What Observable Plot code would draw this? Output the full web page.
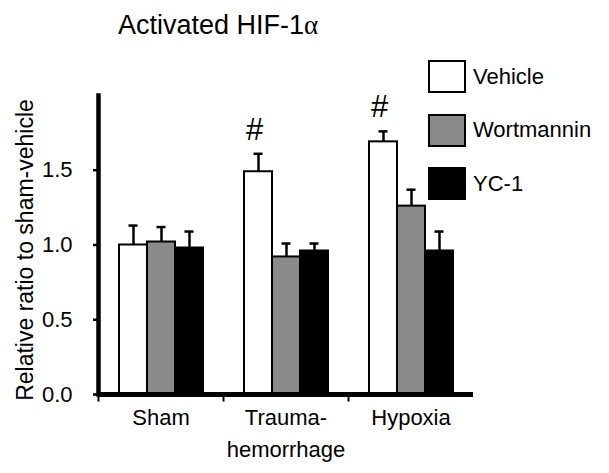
<!DOCTYPE html>
<html><head><meta charset="utf-8">
<script src="https://cdn.jsdelivr.net/npm/d3@7"></script>
<script src="https://cdn.jsdelivr.net/npm/@observablehq/plot@0.6"></script>
<style>
body{margin:0;background:#fff;}
#wrap{position:relative;width:609px;height:473px;font-family:"Liberation Sans",Arial,sans-serif;overflow:hidden;}
#chart{position:absolute;left:0;top:0;}
#title{position:absolute;left:118px;top:12px;font-size:27px;line-height:27px;white-space:nowrap;color:#000;}
#title .greek{font-family:"Liberation Serif","Times New Roman",serif;}
#legend{position:absolute;left:429px;top:61px;}
#legend .lg-swatches{font-family:"Liberation Sans",Arial,sans-serif;font-size:22px;margin:0;color:#000;}
#legend .lg-swatch{margin-bottom:22.5px;padding-bottom:0;}
#legend .lg-swatch > svg{margin-right:8px;overflow:visible;}
#legend .lg-swatch rect{stroke:#000;stroke-width:2px;}
</style></head>
<body><div id="wrap"><div id="chart"></div><div id="title">Activated HIF-1<span class="greek">α</span></div><div id="legend"></div></div>
<script>
// ---- data ----
const groups = ["Sham", "Trauma-hemorrhage", "Hypoxia"];
const groupLabels = ["Sham", "Trauma-\nhemorrhage", "Hypoxia"];
const treatments = ["Vehicle", "Wortmannin", "YC-1"];
const treatmentColors = ["#ffffff", "#8a8a8a", "#000000"];
const vehicleMean = [1.00, 1.49, 1.69];
const vehicleUpper = [1.13, 1.61, 1.76];
const wortmanninMean = [1.02, 0.92, 1.26];
const wortmanninUpper = [1.12, 1.01, 1.37];
const yc1Mean = [0.98, 0.96, 0.96];
const yc1Upper = [1.09, 1.01, 1.09];
const vehicleSignificance = ["", "#", "#"];
const yTicks = [0, 0.5, 1.0, 1.5];
const yLabel = "Relative ratio to sham-vehicle";

const means = [vehicleMean, wortmanninMean, yc1Mean];
const uppers = [vehicleUpper, wortmanninUpper, yc1Upper];
const rows = [];
groups.forEach((g, i) => treatments.forEach((t, j) => {
  rows.push({group: g, treatment: t, value: means[j][i], err: uppers[j][i]});
}));
const sigRows = groups.map((g, i) => ({group: g, treatment: "Vehicle", err: vehicleUpper[i], mark: vehicleSignificance[i]}))
  .filter(d => d.mark);

const tickSymbol = {draw(ctx) { ctx.moveTo(0, 0); ctx.lineTo(0, 7); }};
const font = '"Liberation Sans", Arial, sans-serif';

const chart = Plot.plot({
  width: 609, height: 473,
  marginLeft: 98, marginRight: 136, marginTop: 95, marginBottom: 79,
  style: {fontFamily: font, fontSize: "22px", color: "#000", background: "#fff"},
  fx: {domain: groups, padding: 0, label: null, axis: null},
  x: {domain: treatments, paddingInner: 0, paddingOuter: 0.7, axis: null},
  y: {domain: [0, 2], axis: null},
  color: {domain: treatments, range: treatmentColors},
  marks: [
    Plot.barY(rows, {fx: "group", x: "treatment", y: "value", fill: "treatment", stroke: "#000", strokeWidth: 2}),
    Plot.ruleX(rows, {fx: "group", x: "treatment", y1: "value", y2: "err", stroke: "#000", strokeWidth: 2.5}),
    Plot.tickY(rows, {fx: "group", x: "treatment", y: "err", stroke: "#000", strokeWidth: 2.5, insetLeft: 9.5, insetRight: 9.5}),
    Plot.text(sigRows, {fx: "group", x: "treatment", y: "err", text: "mark", dx: -4, dy: -24, fontSize: 31, fill: "#000"}),
    Plot.ruleY([0], {stroke: "#000", strokeWidth: 5}),
    Plot.dot([0], {x: null, y: null, frameAnchor: "bottom-left", symbol: tickSymbol, stroke: "#000", strokeWidth: 2, fill: "none"}),
    Plot.frame({anchor: "left", stroke: "#000", strokeWidth: 4.5, facetAnchor: "left"}),
    Plot.axisY({ticks: yTicks, tickFormat: d3.format(".1f"), tickSize: 5, tickPadding: 21, strokeWidth: 2.5,
      fontSize: 22, label: null}),
    Plot.text([yLabel], {x: null, y: null, text: d => d, frameAnchor: "left", textAnchor: "middle", rotate: -90,
      lineAnchor: "middle", dx: -73, dy: 5, fontSize: 23, fill: "#000", facetAnchor: "left"}),
    Plot.axisFx({anchor: "bottom", tickSize: 0, tickPadding: 8.5, fontSize: 22, lineHeight: 1.44,
      tickFormat: d => groupLabels[groups.indexOf(d)], label: null})
  ]
});
document.getElementById("chart").appendChild(chart);

const legend = Plot.legend({
  color: {domain: treatments, range: treatmentColors},
  legend: "swatches", columns: 1, swatchWidth: 36, swatchHeight: 31, className: "lg"
});
document.getElementById("legend").appendChild(legend);
</script>
</body></html>
